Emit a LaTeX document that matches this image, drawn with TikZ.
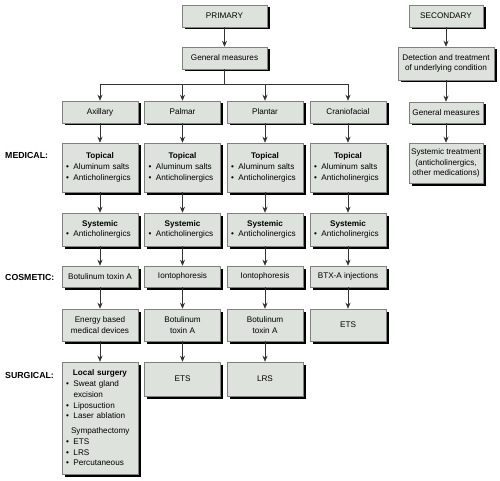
\documentclass[tikz,border=0pt]{standalone}
\usepackage{fontspec}
\setmainfont{Liberation Sans}
\usetikzlibrary{shadows,arrows.meta}
\definecolor{boxfill}{HTML}{DDE2DC}
\newcommand{\bodyfont}{\fontsize{8.2}{10.8}\selectfont}
\newcommand{\bul}[1]{\par\hangindent=7.5bp\hangafter=1\noindent\makebox[7.5bp][l]{\textbullet}#1}
\begin{document}
\begin{tikzpicture}[
    x=1bp, y=-1bp,
    box/.style={draw=black!50, line width=0.5pt, fill=boxfill, font=\bodyfont,
                align=center, inner sep=2bp, minimum width=76bp,
                drop shadow={shadow xshift=2.5bp, shadow yshift=-2.5bp, opacity=1, fill=black}},
    listbox/.style={box, text width=68bp, align=left},
    rowlbl/.style={font=\fontsize{8.8}{10}\selectfont\bfseries, anchor=west, inner sep=0pt},
    >={Stealth[length=6bp, width=5bp]},
    link/.style={->, draw=black!80, line width=0.6pt}
  ]
  \useasboundingbox (0,0) rectangle (500,481);
  % Primary branch
  \node[box, minimum width=85bp, minimum height=22bp] (prim) at (224.5,16) {PRIMARY};
  \node[box, minimum width=85bp, minimum height=22bp] (gen) at (224.5,58) {General measures};
  \draw[link] (prim) -- (gen);
  \coordinate (split) at (224.5,84);
  \draw[draw=black!80, line width=0.6pt] (gen) -- (split);
  % Row labels
  \node[rowlbl] (medlbl) at (5,155) {MEDICAL:};
  \node[rowlbl] (coslbl) at (5,277) {COSMETIC:};
  \node[rowlbl] (surlbl) at (5,375) {SURGICAL:};
  % One column per site
  \foreach \c/\x/\site/\cos/\nxt in {
      1/100/Axillary/Botulinum toxin A/Energy based\\medical devices,
      2/182.5/Palmar/Iontophoresis/Botulinum\\toxin A,
      3/265/Plantar/Iontophoresis/Botulinum\\toxin A,
      4/348/Craniofacial/BTX-A injections/ETS}{
    \node[box, minimum height=22bp] (site\c) at (\x,112) {\site};
    \node[listbox, minimum height=49bp] (top\c) at (\x,167.5)
      {{\centering\bfseries Topical\par}\bul{Aluminum salts}\bul{Anticholinergics}};
    \node[listbox, minimum height=33bp] (sys\c) at (\x,229.5)
      {{\centering\bfseries Systemic\par}\bul{Anticholinergics}};
    \node[box, minimum height=21bp] (cos\c) at (\x,276.5) {\cos};
    \node[box, minimum height=32bp] (nxt\c) at (\x,325) {\nxt};
    \draw[link] (split) -| (site\c.north);
    \draw[link] (site\c) -- (top\c);
    \draw[link] (top\c) -- (sys\c);
    \draw[link] (sys\c) -- (cos\c);
    \draw[link] (cos\c) -- (nxt\c);
  }
  % Surgical row
  \node[listbox, minimum height=112bp] (surg1) at (100,418)
    {{\centering\bfseries Local surgery\par}\bul{Sweat gland excision}\bul{Liposuction}\bul{Laser ablation}
     \par\vspace{4bp}\hspace*{5bp}Sympathectomy\bul{ETS}\bul{LRS}\bul{Percutaneous}};
  \node[box, minimum height=34bp] (surg2) at (182.5,379) {ETS};
  \node[box, minimum height=34bp] (surg3) at (265,379) {LRS};
  \draw[link] (nxt1) -- (surg1);
  \draw[link] (nxt2) -- (surg2);
  \draw[link] (nxt3) -- (surg3);
  % Secondary branch
  \node[box, minimum width=74bp, minimum height=22bp] (sec) at (446,16) {SECONDARY};
  \node[box, minimum width=96bp, minimum height=33bp] (detect) at (446,63.5)
    {Detection and treatment\\of underlying condition};
  \node[box, minimum width=74bp, minimum height=21bp] (gen2) at (446,112.5) {General measures};
  \node[box, minimum width=74bp, minimum height=40bp] (systr) at (446,163)
    {Systemic treatment\\(anticholinergics,\\other medications)};
  \draw[link] (sec) -- (detect);
  \draw[link] (detect) -- (gen2);
  \draw[link] (gen2) -- (systr);
\end{tikzpicture}
\end{document}
